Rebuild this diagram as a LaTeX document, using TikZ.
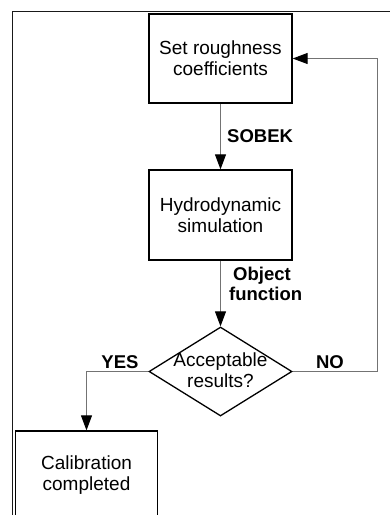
\documentclass[tikz,border=0pt]{standalone}
\usepackage{fontspec}
\setmainfont{Liberation Sans}
\usetikzlibrary{arrows.meta,shapes.geometric}
\begin{document}
\begin{tikzpicture}[x=1pt,y=-1pt,
  txt/.style={font=\fontsize{19}{21}\selectfont, align=center},
  lbl/.style={font=\fontsize{18.5}{20.5}\selectfont\bfseries, align=left, inner sep=0pt},
  stepbox/.style={draw=black, line width=1.3pt, minimum width=143pt, inner sep=0pt, txt},
  conn/.style={draw=black!55, line width=1pt, -{Triangle[length=15pt,width=11pt,fill=black,color=black]}},
  ]
\useasboundingbox (0,0) rectangle (390,515);
% frame
\draw[line width=1.8pt, black!90] (12.5,530) -- (12.5,11.5) -- (400,11.5);
% boxes
\node[stepbox, minimum height=89pt] (set) at (220.5,58.5) {Set roughness\\coefficients};
\node[stepbox, minimum height=90pt] (hyd) at (220.5,215) {Hydrodynamic\\simulation};
\node[draw=black, line width=1.3pt, diamond, aspect=1.6, minimum width=143pt, minimum height=89pt, inner sep=0pt] (dec) at (220.5,371.5) {};
\node[txt, inner sep=0pt] (dectxt) at (220.5,370) {Acceptable\\results?};
\node[stepbox, minimum width=142pt, minimum height=88pt] (cal) at (86.5,475) {Calibration\\completed};
% connectors
\draw[conn] (set.south) -- (hyd.north);
\draw[conn] (hyd.south) -- (dec.north);
\coordinate (nocorner1) at (377,371.5);
\coordinate (nocorner2) at (377,58.5);
\draw[conn] (dec.east) -- (nocorner1) -- (nocorner2) -- (set.east);
\coordinate (yescorner) at (86.5,371.5);
\draw[conn] (dec.west) -- (yescorner) -- (cal.north);
% labels
\node[lbl, anchor=west] (sobek) at (227,136) {SOBEK};
\node[lbl, anchor=west, align=left] (obj) at (229,284) {\hspace*{4pt}Object\\function};
\node[lbl] (yes) at (120,362) {YES};
\node[lbl] (no) at (330,362) {NO};
\end{tikzpicture}
\end{document}
